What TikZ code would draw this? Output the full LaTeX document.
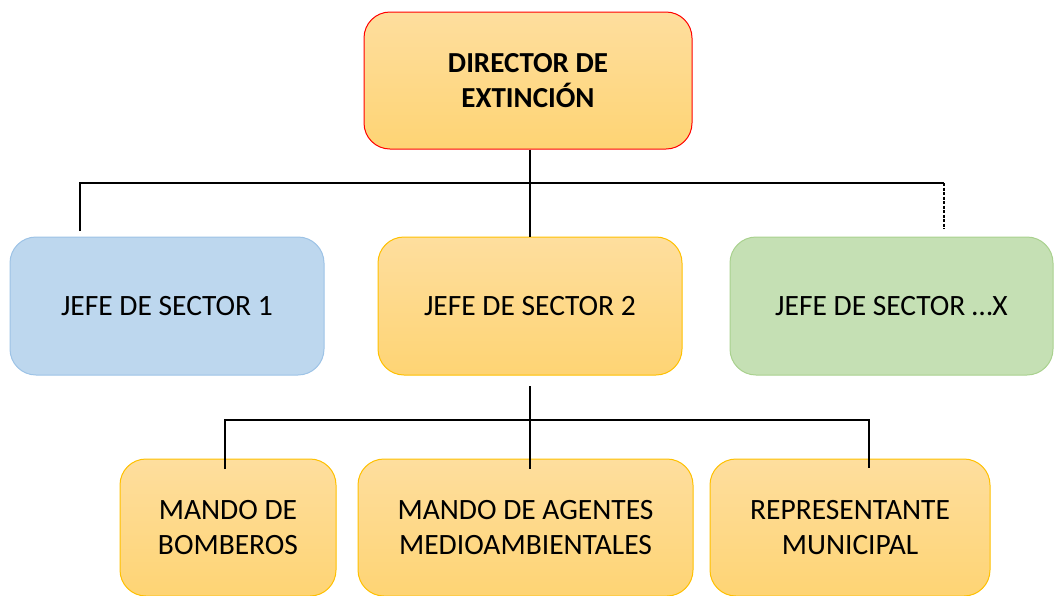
\documentclass[tikz,border=0pt]{standalone}
\usepackage{fontspec}
\setmainfont{Carlito}
\usepackage{xcolor}
\usepackage{tikz}
\usetikzlibrary{positioning,shapes.geometric,arrows.meta,calc}

\definecolor{oroTop}{HTML}{FEDE9E}
\definecolor{oroBot}{HTML}{FED474}
\definecolor{oroLine}{HTML}{FFC000}
\definecolor{bluFill}{HTML}{BDD7EE}
\definecolor{bluLine}{HTML}{9DC3E6}
\definecolor{verFill}{HTML}{C5E0B4}
\definecolor{verLine}{HTML}{A9D18E}

\begin{document}
\begin{tikzpicture}[x=1pt, y=-1pt,
    box/.style={rectangle, rounded corners=26pt, line width=1pt, align=center,
      font=\fontsize{29.5}{35}\selectfont, minimum height=138pt, inner sep=0pt},
    oro/.style={box, draw=oroLine, top color=oroTop, bottom color=oroBot},
    conn/.style={line width=2pt}]
    \useasboundingbox (0,0) rectangle (1054,595);
    % direttore e capi settore
    \node[oro, draw=red, minimum width=328pt, minimum height=137pt, font=\fontsize{29}{35}\selectfont\bfseries] (D) at (528,80.5) {DIRECTOR DE\\EXTINCIÓN};
    \node[box, draw=bluLine, fill=bluFill, minimum width=314pt] (J1) at (167,306) {JEFE DE SECTOR 1};
    \node[oro, minimum width=304pt] (J2) at (530,306) {JEFE DE SECTOR 2};
    \node[box, draw=verLine, fill=verFill, minimum width=323pt] (J3) at (891.5,306) {JEFE DE SECTOR …X};
    % mandi sotto il settore 2
    \node[oro, minimum width=216pt, minimum height=137pt] (M1) at (228,527.5) {MANDO DE\\BOMBEROS};
    \node[oro, minimum width=335pt, minimum height=137pt] (M2) at (525.5,527.5) {MANDO DE AGENTES\\MEDIOAMBIENTALES};
    \node[oro, minimum width=280pt, minimum height=137pt] (M3) at (850,527.5) {REPRESENTANTE\\MUNICIPAL};

    \coordinate (e1) at (80,231);
    \coordinate (c3) at (944,183);
    \coordinate (e3) at (944,229);
    \draw[conn] (J2.north |- D.south) -- (J2.north);
    \draw[conn] (e1) |- (c3);
    \draw[conn, dash pattern=on 3pt off 1.5pt] (c3) -- (e3);

    \coordinate (s2) at (530,386);
    \coordinate (b2) at (530,420);
    \coordinate (m1) at (225,469);
    \coordinate (m2) at (530,469);
    \coordinate (m3) at (869,468);
    \draw[conn] (s2) -- (m2);
    \draw[conn] (m1) |- (b2) -| (m3);
\end{tikzpicture}
\end{document}
